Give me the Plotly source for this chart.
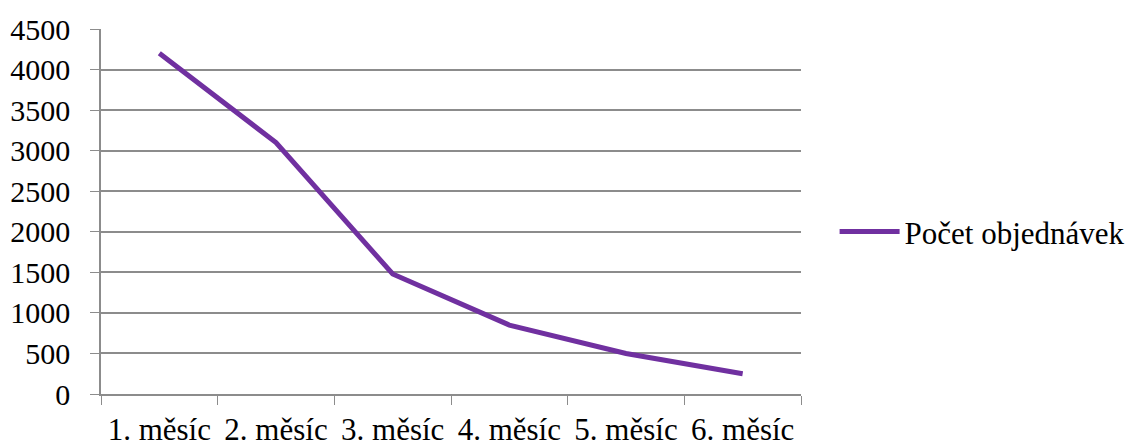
import plotly.graph_objects as go

# Monthly order counts
months = ["1. měsíc", "2. měsíc", "3. měsíc", "4. měsíc", "5. měsíc", "6. měsíc"]
orders = [4200, 3100, 1480, 850, 500, 250]
series_name = "Počet objednávek"
y_ticks = [0, 500, 1000, 1500, 2000, 2500, 3000, 3500, 4000, 4500]

font_family = "Liberation Serif, Times New Roman, serif"
grid_color = "#8c8c8c"

fig = go.Figure(
    go.Scatter(
        x=months,
        y=orders,
        mode="lines",
        name=series_name,
        line=dict(color="#7030A0", width=5),
        showlegend=True,
    )
)

fig.update_layout(
    width=1128,
    height=446,
    margin=dict(l=101, r=327, t=29, b=52, autoexpand=False),
    paper_bgcolor="white",
    plot_bgcolor="white",
    font=dict(family=font_family, size=30, color="black"),
    legend=dict(
        x=1.048,
        y=0.444,
        xanchor="left",
        yanchor="middle",
        font=dict(family=font_family, size=31, color="black"),
        bgcolor="rgba(0,0,0,0)",
        itemwidth=60,
    ),
)

fig.update_xaxes(
    type="category",
    range=[-0.5, 5.5],
    tickson="boundaries",
    ticks="outside",
    ticklen=9,
    tickcolor=grid_color,
    showline=True,
    linecolor=grid_color,
    linewidth=1.5,
    showgrid=False,
    zeroline=False,
    automargin=False,
    ticklabelstandoff=7,
    tickfont=dict(family=font_family, size=31, color="black"),
)

fig.update_yaxes(
    range=[0, 4500],
    tickvals=y_ticks,
    ticks="outside",
    ticklen=9,
    tickcolor=grid_color,
    showline=True,
    linecolor=grid_color,
    linewidth=1.5,
    showgrid=True,
    gridcolor=grid_color,
    gridwidth=1.5,
    zeroline=False,
    automargin=False,
    ticklabelstandoff=14,
    tickfont=dict(family=font_family, size=30, color="black"),
)

fig.write_html("out.html")
